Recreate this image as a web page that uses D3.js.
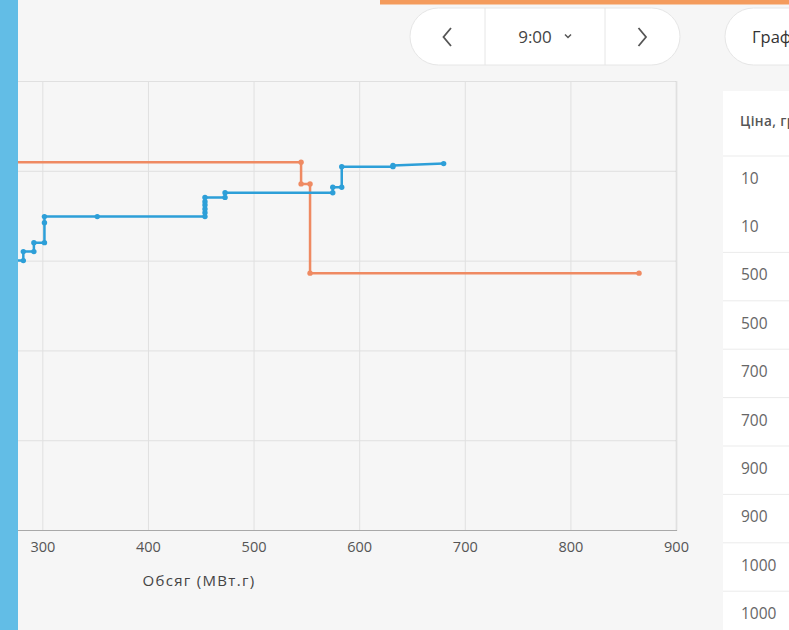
<!DOCTYPE html>
<html><head><meta charset="utf-8">
<script src="https://cdn.jsdelivr.net/npm/d3@7"></script>
<style>
html,body{margin:0;padding:0;background:#f6f6f6;overflow:hidden}
svg{display:block;font-family:"Open Sans",sans-serif}
</style></head><body>
<svg id="c" width="789" height="630"></svg>
<script>
// ---- data ----
const xTicks = [300, 400, 500, 600, 700, 800, 900];
const yTicks = [0, 500, 1000, 1500, 2000, 2500];
// sell curve (blue) corner points
const sellVolume = [250, 282, 282, 292, 292, 302, 302, 302, 352, 454, 454, 454, 454, 454, 454, 473, 473, 575, 575, 583.5, 583.5, 632, 632, 680];
const sellPrice  = [1500, 1500, 1550, 1550, 1600, 1600, 1711, 1745, 1745, 1745, 1767, 1787, 1810, 1828, 1852, 1852, 1878, 1878, 1908, 1908, 2023, 2023, 2030, 2040];
// buy curve (orange) corner points
const buyVolume = [0, 545, 545, 553.5, 553.5, 865];
const buyPrice  = [2048, 2048, 1927, 1927, 1430, 1430];
const hourLabel = "9:00";
const buttonLabel = "Графік";
const xTitle = "Обсяг (МВт.г)";
const tableHeader = "Ціна, грн/МВт.г";
const tablePrices = [10, 10, 500, 500, 700, 700, 900, 900, 1000, 1000];

const svg = d3.select("#c");
const W = 789, H = 630;
const plotTop = 81, plotBottom = 530, plotRight = 676, plotLeft = -274.5;

const x = d3.scaleLinear().domain([0, 900]).range([plotLeft, plotRight]);
const y = d3.scaleLinear().domain([0, 2500]).range([plotBottom, plotTop]);

// y gridlines
const gy = svg.append("g").attr("transform", `translate(${plotLeft},0)`)
  .call(d3.axisLeft(y).tickValues(yTicks).tickSize(-(plotRight - plotLeft)).tickFormat(""));
gy.select(".domain").remove();
gy.selectAll("line").attr("stroke", "#e0e0e0").attr("stroke-width", 1);

// x axis + vertical gridlines
const gx = svg.append("g").attr("transform", `translate(0,${plotBottom})`)
  .call(d3.axisBottom(x).tickValues(xTicks).tickSize(-(plotBottom - plotTop)).tickPadding(12));
gx.select(".domain").attr("stroke", "#a9a9a9").attr("stroke-width", 1.2);
gx.selectAll(".tick line").attr("stroke", "#e0e0e0");
gx.selectAll(".tick text").attr("fill", "#555").style("font-size", "14.5px")
  .style("font-family", '"Open Sans",sans-serif');

svg.append("text").attr("x", 199).attr("y", 586)
  .attr("text-anchor", "middle").attr("fill", "#444").style("font-size", "15px")
  .style("letter-spacing", "1.3px")
  .text(xTitle);

const line = d3.line().x(d => x(d[0])).y(d => y(d[1]));
const buy = buyVolume.map((v, i) => [v, buyPrice[i]]);
const sell = sellVolume.map((v, i) => [v, sellPrice[i]]);

function drawSeries(data, color) {
  svg.append("path").datum(data).attr("d", line)
    .attr("fill", "none").attr("stroke", color).attr("stroke-width", 2.5)
    .attr("stroke-linejoin", "round");
  svg.append("g").selectAll("circle").data(data).join("circle")
    .attr("cx", d => x(d[0])).attr("cy", d => y(d[1])).attr("r", 2.7)
    .attr("fill", color);
}
drawSeries(buy, "#ef8a62");
drawSeries(sell, "#2d9fd8");

// left stripe
svg.append("rect").attr("x", 0).attr("y", 0).attr("width", 18).attr("height", H).attr("fill", "#62bde6");
// top orange bar
svg.append("rect").attr("x", 380).attr("y", 0).attr("width", W - 380).attr("height", 4.5).attr("fill", "#f49b5c");

// hour switcher pill
svg.append("rect").attr("x", 410).attr("y", 8).attr("width", 270).attr("height", 57).attr("rx", 28.5)
  .attr("fill", "#fff").attr("stroke", "#e6e6e6");
[485, 605].forEach(px => svg.append("line").attr("x1", px).attr("x2", px).attr("y1", 8).attr("y2", 65)
  .attr("stroke", "#e6e6e6"));
svg.append("path").attr("d", "M451,28 L443.5,37 L451,46").attr("fill", "none").attr("stroke", "#555").attr("stroke-width", 1.8);
svg.append("path").attr("d", "M638.5,28 L646,37 L638.5,46").attr("fill", "none").attr("stroke", "#555").attr("stroke-width", 1.8);
svg.append("text").attr("x", 535).attr("y", 43).attr("text-anchor", "middle").attr("fill", "#444")
  .style("font-size", "17px").text(hourLabel);
svg.append("path").attr("d", "M565,34.5 L568,37.5 L571,34.5").attr("fill", "none").attr("stroke", "#555").attr("stroke-width", 1.5);

// second pill
svg.append("rect").attr("x", 725).attr("y", 8).attr("width", 150).attr("height", 57).attr("rx", 28.5)
  .attr("fill", "#fff").attr("stroke", "#e6e6e6");
svg.append("text").attr("x", 752).attr("y", 43).attr("fill", "#333").style("font-size", "16.5px").text(buttonLabel);

// table card
svg.append("rect").attr("x", 723).attr("y", 91).attr("width", 90).attr("height", 560).attr("fill", "#fff");
svg.append("text").attr("x", 740).attr("y", 126).attr("fill", "#555").style("font-size", "13.5px")
  .style("font-weight", 600).style("letter-spacing", "0.4px").text(tableHeader);
svg.append("line").attr("x1", 723).attr("x2", W).attr("y1", 156).attr("y2", 156).attr("stroke", "#ebebeb");
const rowY = i => 178 + i * 48.4;
svg.append("g").selectAll("text").data(tablePrices).join("text")
  .attr("x", 741).attr("y", (d, i) => rowY(i) + 5.5).attr("fill", "#666").style("font-size", "15.5px")
  .text(d => d);
svg.append("g").selectAll("line").data(tablePrices.slice(1, -1)).join("line")
  .attr("x1", 723).attr("x2", W)
  .attr("y1", (d, i) => rowY(i + 1) + 26).attr("y2", (d, i) => rowY(i + 1) + 26)
  .attr("stroke", "#ebebeb");
</script>
</body></html>
